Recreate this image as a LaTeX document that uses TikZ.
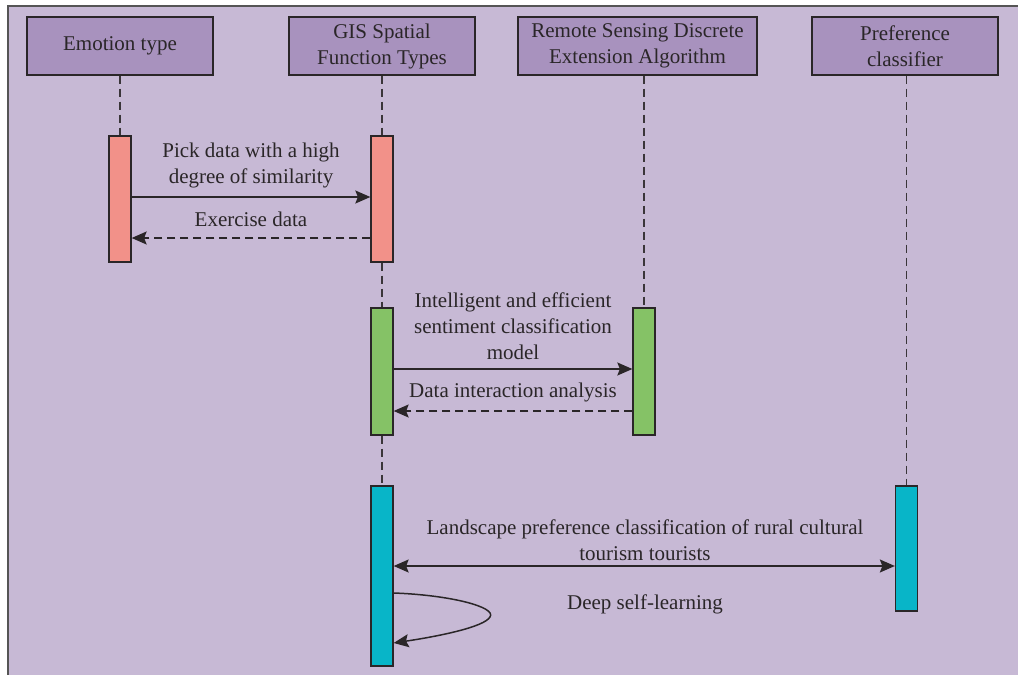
\documentclass[tikz,border=0pt]{standalone}
\usepackage{fontspec}
\setmainfont{Liberation Serif}
\usetikzlibrary{arrows.meta,calc}
\definecolor{bgpurple}{HTML}{C7B9D5}
\definecolor{headfill}{HTML}{A892BE}
\definecolor{framegray}{HTML}{555555}
\definecolor{inkdark}{HTML}{2A2628}
\definecolor{actred}{HTML}{F29189}
\definecolor{actgreen}{HTML}{85C266}
\definecolor{actcyan}{HTML}{08B5C8}
\tikzset{
  header/.style={draw=inkdark, line width=1.3pt, fill=headfill, inner sep=0pt,
    minimum height=58pt, align=center, text=inkdark,
    font=\fontsize{21}{26}\selectfont},
  actbox/.style={draw=inkdark, line width=1.3pt, inner sep=0pt, minimum width=22pt},
  lifeline/.style={draw=inkdark!90!bgpurple, line width=1.5pt, dash pattern=on 8pt off 5pt},
  msg/.style={draw=inkdark, line width=1.5pt, -{Stealth[length=15pt,width=13pt,inset=2.5pt]}},
  reply/.style={msg, dash pattern=on 8pt off 5pt},
  both/.style={draw=inkdark, line width=1.5pt,
    {Stealth[length=15pt,width=13pt,inset=2.5pt]}-{Stealth[length=15pt,width=13pt,inset=2.5pt]}},
  msglabel/.style={align=center, text=inkdark, inner sep=0pt,
    font=\fontsize{21}{26}\selectfont}
}
\begin{document}
\begin{tikzpicture}[x=1pt,y=-1pt]
  % canvas and the open frame (top and left edges)
  \useasboundingbox (0,0) rectangle (1018,675);
  \fill[white] (0,0) rectangle (1018,675);
  \fill[bgpurple] (8,6) rectangle (1018,675);
  \draw[framegray, line width=2pt] (8,675) -- (8,6) -- (1018,6);

  % participants
  \node[header, minimum width=186pt] (h1) at (120,46) {Emotion type};
  \node[header, minimum width=186pt] (h2) at (382,46) {GIS Spatial\\Function Types};
  \node[header, minimum width=239pt] (h3) at (637.5,46) {Remote Sensing Discrete\\Extension Algorithm};
  \node[header, minimum width=186pt] (h4) at (905,46) {Preference\\classifier};

  % activation bars
  \node[actbox, fill=actred,   minimum height=126pt] (ae)  at (120,199) {};
  \node[actbox, fill=actred,   minimum height=126pt] (ag1) at (382,199) {};
  \node[actbox, fill=actgreen, minimum height=127pt] (ag2) at (382,371.5) {};
  \node[actbox, fill=actgreen, minimum height=127pt] (ar)  at (644,371.5) {};
  \node[actbox, fill=actcyan,  minimum height=180pt] (ag3) at (382,576) {};
  \node[actbox, fill=actcyan,  minimum height=125pt] (ap)  at (906.5,548.5) {};

  % lifelines
  \draw[lifeline] (h1.south -| ae) -- (ae.north);
  \draw[lifeline] (h2.south -| ag1) -- (ag1.north);
  \draw[lifeline] (ag1.south) -- (ag2.north);
  \draw[lifeline] (ag2.south) -- (ag3.north);
  \draw[lifeline] (h3.south -| ar) -- (ar.north);
  \draw[lifeline] (h4.south -| ap) -- (ap.north);

  % message levels
  \coordinate (m1) at (0,197);
  \coordinate (m2) at (0,238);
  \coordinate (m3) at (0,369);
  \coordinate (m4) at (0,411);
  \coordinate (m5) at (0,566);
  \coordinate (m6) at (0,593);
  \coordinate (m7) at (0,643);

  % messages
  \draw[msg]   (ae.east |- m1) -- (ag1.west |- m1);
  \draw[reply] (ag1.west |- m2) -- (ae.east |- m2);
  \draw[msg]   (ag2.east |- m3) -- (ar.west |- m3);
  \draw[reply] (ar.west |- m4) -- (ag2.east |- m4);
  \draw[both]  (ag3.east |- m5) -- (ap.west |- m5);
  \draw[msg]   (ag3.east |- m6) .. controls (450,595) and (497,607) .. (490,617)
                .. controls (484,627) and (440,636) .. (ag3.east |- m7);

  % message labels
  \node[msglabel] (l1) at (251,165) {Pick data with a high\\degree of similarity};
  \node[msglabel] (l2) at (251,219) {Exercise data};
  \node[msglabel] (l3) at (513,326) {Intelligent and efficient\\sentiment classification\\model};
  \node[msglabel] (l4) at (513,392) {Data interaction analysis};
  \node[msglabel] (l5) at (645,540) {Landscape preference classification of rural cultural\\tourism tourists};
  \node[msglabel] (l6) at (645,604) {Deep self-learning};
\end{tikzpicture}
\end{document}
